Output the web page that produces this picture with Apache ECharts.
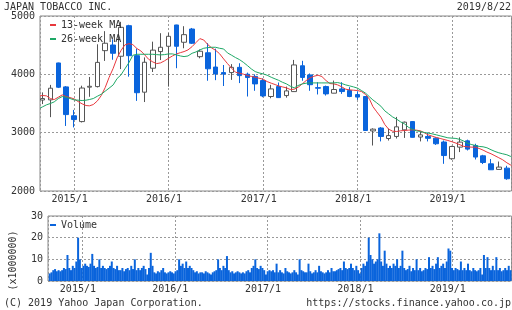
<!DOCTYPE html>
<html>
<head>
<meta charset="utf-8">
<title>JAPAN TOBACCO INC.</title>
<script src="https://cdn.jsdelivr.net/npm/echarts@6.0.0/dist/echarts.min.js"></script>
<style>
    html, body { margin: 0; padding: 0; background: #fff; }
    #chart { width: 512px; height: 310px; }
</style>
</head>
<body>
<div id="chart"></div>
<script>
// monthly candles, Sep 2014 .. Aug 2019
var months = [
    '2014-09','2014-10','2014-11','2014-12',
    '2015-01','2015-02','2015-03','2015-04','2015-05','2015-06','2015-07','2015-08','2015-09','2015-10','2015-11','2015-12',
    '2016-01','2016-02','2016-03','2016-04','2016-05','2016-06','2016-07','2016-08','2016-09','2016-10','2016-11','2016-12',
    '2017-01','2017-02','2017-03','2017-04','2017-05','2017-06','2017-07','2017-08','2017-09','2017-10','2017-11','2017-12',
    '2018-01','2018-02','2018-03','2018-04','2018-05','2018-06','2018-07','2018-08','2018-09','2018-10','2018-11','2018-12',
    '2019-01','2019-02','2019-03','2019-04','2019-05','2019-06','2019-07','2019-08'
];
var open = [
    3560,3562,4195,3785,
    3290,3190,3780,3790,4406,4503,4310,4834,4320,3694,4105,4390,
    4481,4846,4550,4777,4303,4370,4125,4030,4030,4120,4002,3965,
    3893,3620,3790,3636,3704,4147,3990,3772,3790,3677,3750,3722,
    3653,3620,3030,3080,2900,2935,3048,3190,2925,2935,2906,2840,
    2553,2752,2860,2780,2603,2466,2370,2392
];
var close = [
    3585,3762,3779,3310,
    3225,3765,3795,4205,4533,4361,4806,4320,3685,4207,4415,4464,
    4652,4481,4680,4533,4396,4095,4007,4005,4120,3978,3945,3836,
    3630,3750,3601,3716,4161,3947,3822,3762,3665,3740,3705,3620,
    3610,3037,3060,2935,2950,3100,3180,2920,2962,2903,2810,2608,
    2763,2838,2718,2582,2489,2364,2410,2210
];
var low = [
    3490,3266,3765,3115,
    3090,3175,3615,3775,4230,4250,4090,3960,3545,3525,4040,4245,
    3790,4105,4447,4520,4275,3890,3900,3800,3905,3850,3620,3718,
    3608,3590,3595,3600,3700,3890,3718,3655,3636,3675,3665,3608,
    3562,3030,2780,2850,2865,2900,2910,2915,2850,2850,2790,2466,
    2535,2667,2695,2540,2462,2360,2368,2193
];
var high = [
    3690,3819,4200,3800,
    3390,3805,3955,4515,4740,4600,4900,4850,4440,4290,4560,4705,
    4709,4850,4825,4795,4425,4535,4440,4160,4175,4190,4030,4000,
    3930,3820,3860,3790,4247,4232,4015,3865,3807,3893,3865,3780,
    3710,3625,3075,3095,3070,3270,3190,3200,3020,3000,2920,2865,
    2775,2920,2880,2810,2620,2548,2505,2432
];

// moving averages read on the 1st and 16th of each month
var maStart = '2014-08-22';
var maEnd = '2019-08-19';
var ma13 = [
    3631,
    3637,3631,3585,3568,3608,3648,3619,3602,
    3579,3534,3494,3465,3460,3482,3545,3637,3773,3945,4104,4281,4407,4504,4526,4509,4441,4401,4333,4258,4213,4184,4196,4230,
    4275,4315,4350,4372,4390,4418,4475,4544,4612,4589,4509,4452,4412,4355,4264,4184,4104,4036,4019,4004,3979,3965,3950,3933,
    3916,3876,3848,3825,3802,3785,3768,3739,3745,3779,3836,3893,3939,3967,3985,3962,3893,3842,3836,3819,3785,3745,3734,3728,
    3722,3705,3654,3574,3448,3357,3266,3140,3060,3026,3020,3032,3037,3043,3049,3043,3032,2998,2963,2940,2918,2901,2883,2866,
    2844,2821,2792,2764,2758,2752,2752,2729,2701,2667,2638,2604,2570,2535,2484,2445,
    2433
];
var ma26 = [
    3420,
    3443,3477,3500,3528,3585,3619,3608,3585,
    3562,3557,3551,3557,3568,3585,3625,3659,3711,3762,3819,3927,3990,4093,4201,4327,4344,4344,4344,4344,4344,4338,4333,4338,
    4350,4350,4333,4315,4304,4315,4361,4384,4418,4447,4458,4464,4464,4447,4435,4367,4327,4287,4253,4207,4150,4093,4047,4024,
    4007,3985,3950,3922,3899,3865,3836,3796,3768,3808,3836,3848,3853,3853,3853,3853,3853,3853,3853,3859,3842,3819,3802,3785,
    3762,3722,3676,3614,3562,3511,3454,3374,3323,3271,3231,3186,3152,3095,3055,3032,3020,3003,2992,2980,2963,2946,2929,2912,
    2906,2901,2883,2855,2821,2798,2781,2764,2758,2741,2707,2678,2655,2638,2621,2592,
    2581
];

// volume (x1000000), one value per week starting 2014-08-25
var volStart = [2014, 7, 25];
var volume = [
    3.5,4,5,5.5,4.5,5,4.5,5,6,5.5, 12, 6,5,7,6,9, 20, 10, 6, 7,8,7,6.5,8, 12.5, 7,6,6.5, 10,
    6,7,6,5.5, 6,7, 9, 6,5.5,7,5, 5,6,4.5,5.5,6,5,7,5.5, 10, 5,6, 5,6,7,5.5,3,6, 13, 7,
    4,3.5,4.5,4,5,6,4,3.5,4,4.5,4,3.5, 4.5,5, 10, 7,8,6,9,6,7,6,
    5,4,4.5,3.5,4,4,3.5,4.5,4,3.5,3,4,4.5,5, 10, 6,5,7,6, 11.5,
    5,4,4.5,3.5,4,4.5,4,3.5,4,3.5,4.5,5,4,6, 7, 10, 6,5.5,7,6,5, 3,
    4.5,5,4.5,5,4,8, 4,5,4,3.5,6,4.5,4,3.5,4,5,4,3, 10,
    5,4.5,4,4,8,4.5,3.5,4,5,4,7,4.5,4,3.5,4,5,4,6,4.5, 4.5,5,5.5,6,5, 9, 6,5.5,6, 8, 6,5, 7, 5,3.5,
    6,8,7,9, 20, 12, 10, 8,9,10, 22, 9,7, 14, 8,6,7,6,8,7, 10, 6,7, 14,
    6,5,5.5,7,4.5,6,5, 10, 5,6,4.5,5,6,5.5, 11, 6,7,5.5,8, 11, 6,7,8,6,9, 15, 14,
    6,5,6,5.5,5, 9, 5,6,5, 8, 5,4.5,6,5,4.5,5,6,3, 12, 6, 11, 6,5,7,5, 11, 5,6,4.5,5,6,5, 7,5
];

var yTicks = { min: 2000, max: 5000, step: 1000 };
var volTicks = { min: 0, max: 30, step: 10 };

var FONT = '"DejaVu Sans Mono", monospace';
var BLUE = '#0a64dc';
var RED = '#e8383d';
var GREEN = '#1ea866';
var TEXT = '#333';

var xMin = +new Date(2014, 7, 22);
var xMax = +new Date(2019, 7, 19);

var candleData = months.map(function (m, i) {
    return [m + '-01', open[i], close[i], low[i], high[i]];
});

var maDates = [maStart];
months.forEach(function (m) {
    maDates.push(m + '-01');
    maDates.push(m + '-16');
});
maDates.push(maEnd);

var volData = volume.map(function (v, i) {
    return [+new Date(volStart[0], volStart[1], volStart[2] + i * 7), v];
});

function timeAxis(gridIndex) {
    return {
        type: 'time',
        gridIndex: gridIndex,
        min: xMin,
        max: xMax,
        minInterval: 365 * 86400000,
        axisLine: { show: false },
        axisTick: { show: false },
        splitLine: { show: true, lineStyle: { color: '#999', type: [2, 2] } },
        axisLabel: {
            formatter: function (v) {
                var d = new Date(v);
                return d.getFullYear() + '/' + (d.getMonth() + 1);
            },
            fontFamily: FONT,
            fontSize: 10,
            color: TEXT,
            margin: 3,
            padding: [0, 9, 0, 0],
            showMinLabel: false,
            showMaxLabel: false
        }
    };
}

function plainNum(v) {
    return String(v);
}

var chart = echarts.init(document.getElementById('chart'));
var option = {
    animation: false,
    backgroundColor: '#fff',
    textStyle: { fontFamily: FONT },
    title: [
        { text: 'JAPAN TOBACCO INC.', left: 4, top: 2, padding: 0,
          textStyle: { fontFamily: FONT, fontSize: 10, fontWeight: 'normal', color: TEXT } },
        { text: '2019/8/22', right: 1, top: 2, padding: 0,
          textStyle: { fontFamily: FONT, fontSize: 10, fontWeight: 'normal', color: TEXT } },
        { text: '(C) 2019 Yahoo Japan Corporation.', left: 4, bottom: 2, padding: 0,
          textStyle: { fontFamily: FONT, fontSize: 10, fontWeight: 'normal', color: TEXT } },
        { text: 'https://stocks.finance.yahoo.co.jp', right: 1, bottom: 2, padding: 0,
          textStyle: { fontFamily: FONT, fontSize: 10, fontWeight: 'normal', color: TEXT } }
    ],
    legend: [
        {
            data: ['13-week MA', '26-week MA'],
            orient: 'vertical', left: 50, top: 20, padding: 0,
            icon: 'rect', itemWidth: 6, itemHeight: 2, itemGap: 4,
            selectedMode: false,
            textStyle: { fontFamily: FONT, fontSize: 10, color: TEXT }
        },
        {
            data: ['Volume'],
            left: 50, top: 220, padding: 0,
            icon: 'rect', itemWidth: 6, itemHeight: 2,
            selectedMode: false,
            textStyle: { fontFamily: FONT, fontSize: 10, color: TEXT }
        }
    ],
    grid: [
        { left: 40, right: 0.5, top: 16, height: 175, show: true, borderColor: '#888', borderWidth: 1 },
        { left: 40, right: 0.5, top: 216, height: 65, show: true, borderColor: '#888', borderWidth: 1 }
    ],
    xAxis: [timeAxis(0), timeAxis(1)],
    yAxis: [
        {
            type: 'value', gridIndex: 0,
            min: yTicks.min, max: yTicks.max, interval: yTicks.step,
            axisLine: { show: false }, axisTick: { show: false },
            splitLine: { lineStyle: { color: '#999', type: [2, 2] } },
            axisLabel: { fontFamily: FONT, fontSize: 10, color: TEXT, margin: 5, formatter: plainNum }
        },
        {
            type: 'value', gridIndex: 1,
            min: volTicks.min, max: volTicks.max, interval: volTicks.step,
            name: '(x1000000)', nameLocation: 'middle', nameRotate: 90, nameGap: 30,
            nameTextStyle: { fontFamily: FONT, fontSize: 10, color: TEXT, padding: [0, 24, 0, 0] },
            axisLine: { show: false }, axisTick: { show: false },
            splitLine: { lineStyle: { color: '#999', type: [2, 2] } },
            axisLabel: { fontFamily: FONT, fontSize: 10, color: TEXT, margin: 5, formatter: plainNum }
        }
    ],
    series: [
        {
            name: 'price',
            type: 'candlestick',
            xAxisIndex: 0, yAxisIndex: 0,
            data: candleData,
            encode: { x: 0, y: [1, 2, 3, 4] },
            barWidth: 5,
            itemStyle: {
                color: '#fff', color0: BLUE,
                borderColor: '#555', borderColor0: BLUE,
                borderWidth: 1
            }
        },
        {
            name: '13-week MA',
            type: 'line',
            xAxisIndex: 0, yAxisIndex: 0,
            data: maDates.map(function (d, i) { return [d, ma13[i]]; }),
            color: RED,
            symbol: 'none',
            lineStyle: { width: 1, color: RED }
        },
        {
            name: '26-week MA',
            type: 'line',
            xAxisIndex: 0, yAxisIndex: 0,
            data: maDates.map(function (d, i) { return [d, ma26[i]]; }),
            color: GREEN,
            symbol: 'none',
            lineStyle: { width: 1, color: GREEN }
        },
        {
            name: 'Volume',
            type: 'bar',
            xAxisIndex: 1, yAxisIndex: 1,
            data: volData,
            color: BLUE,
            barWidth: 2,
            itemStyle: { color: BLUE }
        }
    ]
};
chart.setOption(option);
</script>
</body>
</html>
